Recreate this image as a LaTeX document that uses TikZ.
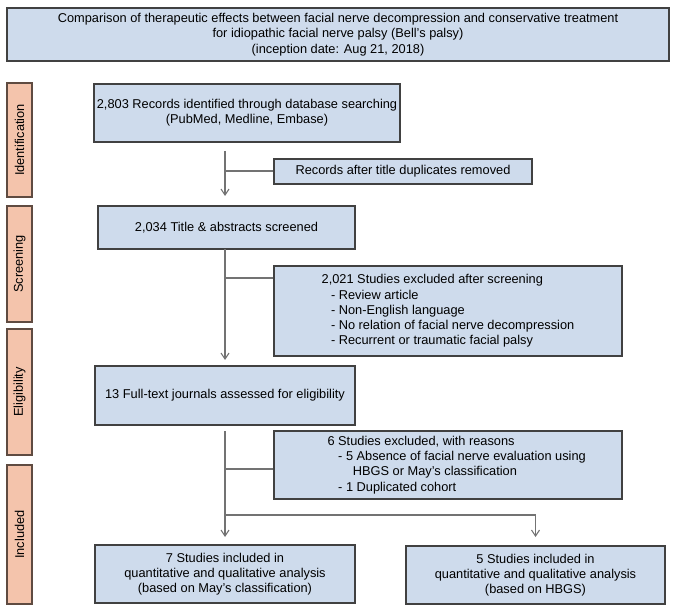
\documentclass[tikz,border=0pt]{standalone}
\usepackage{fontspec}
\setmainfont{Liberation Sans}
\usetikzlibrary{arrows.meta}
\definecolor{boxblue}{RGB}{206,219,236}
\definecolor{stagepink}{RGB}{244,196,172}
\definecolor{edgegray}{RGB}{65,65,65}
\definecolor{stageedge}{RGB}{95,75,65}
\definecolor{linegray}{RGB}{115,115,115}
\begin{document}
\begin{tikzpicture}[x=0.75pt, y=-0.75pt,
    box/.style={draw=edgegray, line width=0.8pt, fill=boxblue, inner sep=0pt, align=center, font=\fontsize{9.6}{11.4}\selectfont},
    listbox/.style={box, align=left},
    stage/.style={draw=stageedge, line width=0.8pt, fill=stagepink, inner sep=0pt, rotate=90, minimum height=18.75pt, font=\fontsize{9.6}{11.4}\selectfont},
    link/.style={draw=linegray, line width=0.8pt},
    arr/.style={link, -{Straight Barb[length=4.5pt,width=6pt]}}]
    \useasboundingbox (0,0) rectangle (678,616);

    % title
    \node[box, line width=1pt, minimum width=496.5pt, minimum height=39.75pt] (title) at (338,34.5)
        {Comparison of therapeutic effects between facial nerve decompression and conservative treatment\\
         for idiopathic facial nerve palsy (Bell’s palsy)\\
         (inception date: Aug 21, 2018)};

    % stages
    \node[stage, minimum width=85.5pt] (ident) at (19.5,140) {Identification};
    \node[stage, minimum width=87pt] (screen) at (19.5,264) {Screening};
    \node[stage, minimum width=94.5pt] (elig) at (19.5,392) {Eligibility};
    \node[stage, minimum width=104.25pt] (incl) at (19.5,534.5) {Included};

    % boxes
    \node[box, minimum width=229.5pt, minimum height=43.5pt] (records) at (247,113)
        {2,803 Records identified through database searching\\(PubMed, Medline, Embase)};
    \node[box, minimum width=193.5pt, minimum height=18.75pt] (dups) at (403,171.5)
        {Records after title duplicates removed};
    \node[box, minimum width=192.75pt, minimum height=32.25pt] (titles) at (226.5,227.5)
        {2,034 Title \& abstracts screened};
    \node[listbox, minimum width=261pt, minimum height=67.5pt] (excla) at (448,311)
        {2,021 Studies excluded after screening\\
         \hspace*{7pt}- Review article\\
         \hspace*{7pt}- Non-English language\\
         \hspace*{7pt}- No relation of facial nerve decompression\\
         \hspace*{7pt}- Recurrent or traumatic facial palsy};
    \node[box, minimum width=195pt, minimum height=44.25pt] (fulltext) at (225,395.5)
        {13 Full-text journals assessed for eligibility};
    \node[listbox, minimum width=261pt, minimum height=51pt] (exclb) at (448,465)
        {6 Studies excluded, with reasons\\
         \makebox[\dimexpr\width-13pt\relax][l]{\hspace*{8pt}- 5 Absence of facial nerve evaluation using}\\
         \hspace*{19pt}HBGS or May’s classification\\
         \hspace*{8pt}- 1 Duplicated cohort};
    \node[box, minimum width=195pt, minimum height=43.5pt] (inca) at (225,574)
        {7 Studies included in\\quantitative and qualitative analysis\\(based on May’s classification)};
    \node[box, minimum width=194.25pt, minimum height=43.5pt] (incb) at (535.5,575)
        {5 Studies included in\\quantitative and qualitative analysis\\(based on HBGS)};

    % connectors
    \coordinate (s1) at (225,151);
    \coordinate (e1) at (225,196);
    \coordinate (j1) at (225,171);
    \draw[arr] (s1) -- (e1);
    \draw[link] (j1) -- (j1 -| dups.west);

    \coordinate (s2) at (225,249);
    \coordinate (e2) at (225,360);
    \coordinate (j2) at (225,278);
    \draw[arr] (s2) -- (e2);
    \draw[link] (j2) -- (j2 -| excla.west);

    \coordinate (s3) at (225,431);
    \coordinate (e3) at (225,537);
    \coordinate (j3) at (225,469);
    \coordinate (j4) at (225,515);
    \coordinate (e4) at (535.5,537);
    \draw[arr] (s3) -- (e3);
    \draw[link] (j3) -- (j3 -| exclb.west);
    \draw[arr] (j4) -| (e4);
\end{tikzpicture}
\end{document}
